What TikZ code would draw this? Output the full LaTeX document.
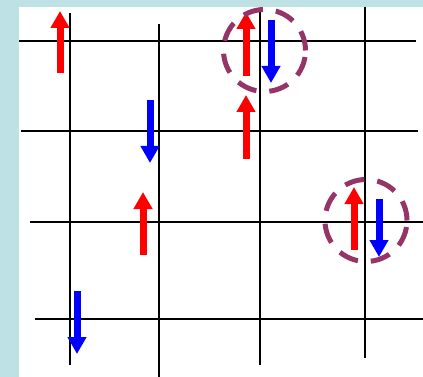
\documentclass[tikz,border=0pt]{standalone}
\usepackage{tikz}
\usetikzlibrary{arrows.meta}
\usepackage{xcolor}
\definecolor{frameteal}{RGB}{189,225,228}
\definecolor{pairpurple}{RGB}{149,52,103}

\begin{document}
\begin{tikzpicture}[x=1pt,y=-1pt,>={Triangle[width=18pt,length=17pt]},
  gridline/.style={black,line width=2pt},
  upspin/.style={red,line width=7pt,->},
  downspin/.style={blue,line width=7pt,->},
  pairring/.style={pairpurple,line width=5pt,dash pattern=on 20pt off 13pt}]
\useasboundingbox (0,0) rectangle (423,377);
\fill[frameteal] (0,0) rectangle (423,377);
\fill[white] (19,7) rectangle (423,377);
% lattice
\draw[gridline] (19,41) -- (416,41);
\draw[gridline] (21,131) -- (418,131);
\draw[gridline] (30,222) -- (423,222);
\draw[gridline] (35,319) -- (423,319);
\draw[gridline] (70,13) -- (70,365);
\draw[gridline] (159,24) -- (159,377);
\draw[gridline] (260,12) -- (260,365);
\draw[gridline] (365,7) -- (365,358);
% spins
\coordinate (u1a) at (60,73);   \coordinate (u1b) at (60,11);
\coordinate (d1a) at (150,100); \coordinate (d1b) at (150,163);
\coordinate (u2a) at (246,76);  \coordinate (u2b) at (246,12);
\coordinate (d2a) at (271,20);  \coordinate (d2b) at (271,83);
\coordinate (u3a) at (246,159); \coordinate (u3b) at (246,95);
\coordinate (u4a) at (143,255); \coordinate (u4b) at (143,192);
\coordinate (d3a) at (77,291);  \coordinate (d3b) at (77,354);
\coordinate (u5a) at (354,250); \coordinate (u5b) at (354,187);
\coordinate (d4a) at (379,199); \coordinate (d4b) at (379,257);
\draw[upspin] (u1a) -- (u1b);
\draw[downspin] (d1a) -- (d1b);
\draw[upspin] (u2a) -- (u2b);
\draw[downspin] (d2a) -- (d2b);
\draw[upspin] (u3a) -- (u3b);
\draw[upspin] (u4a) -- (u4b);
\draw[downspin] (d3a) -- (d3b);
\draw[upspin] (u5a) -- (u5b);
\draw[downspin] (d4a) -- (d4b);
% pairs
\draw[pairring] (264.5,50.5) circle (41pt);
\draw[pairring] (366,220.5) circle (41pt);
\end{tikzpicture}
\end{document}
